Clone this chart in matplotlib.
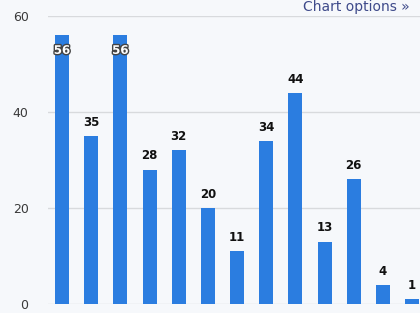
import matplotlib
matplotlib.use("Agg")
import matplotlib.pyplot as plt
import matplotlib.patheffects as pe

values = [56, 35, 56, 28, 32, 20, 11, 34, 44, 13, 26, 4, 1]
yticks = [0, 20, 40, 60]
inside_labels = [0, 2]

bg = "#f6f8fb"
fig = plt.figure(figsize=(4.2, 3.13), dpi=100, facecolor=bg)
ax = fig.add_axes([48/420, 9/313, (420-48)/420, (304-16)/313])
ax.set_facecolor(bg)

x = list(range(len(values)))
ax.bar(x, values, width=0.48, color="#2b7de0", zorder=3)
ax.set_xlim(-0.48, 12.27)
ax.set_ylim(0, 60)
ax.set_yticks(yticks)
ax.set_yticklabels([str(t) for t in yticks], fontsize=9, color="#3a3a3a")
ax.tick_params(axis="y", length=0, pad=14)
ax.set_xticks([])
for s in ax.spines.values():
    s.set_visible(False)
ax.grid(axis="y", color="#d8dadd", linewidth=1, zorder=0)

for i, v in enumerate(values):
    if i in inside_labels:
        t = ax.text(i, v - 1.8, str(v), ha="center", va="top", fontsize=8.5,
                    fontweight="bold", color="white", zorder=5)
        t.set_path_effects([pe.withStroke(linewidth=2, foreground="#444444")])
    else:
        ax.text(i, v + 1.5, str(v), ha="center", va="bottom", fontsize=8.5,
                fontweight="bold", color="#111111", zorder=5)

fig.text(410/420, 1 - 7/313, "Chart options »", ha="right", va="center",
         fontsize=10, color="#3e4a8a")

fig.savefig("out.png", dpi=100, facecolor=bg)
